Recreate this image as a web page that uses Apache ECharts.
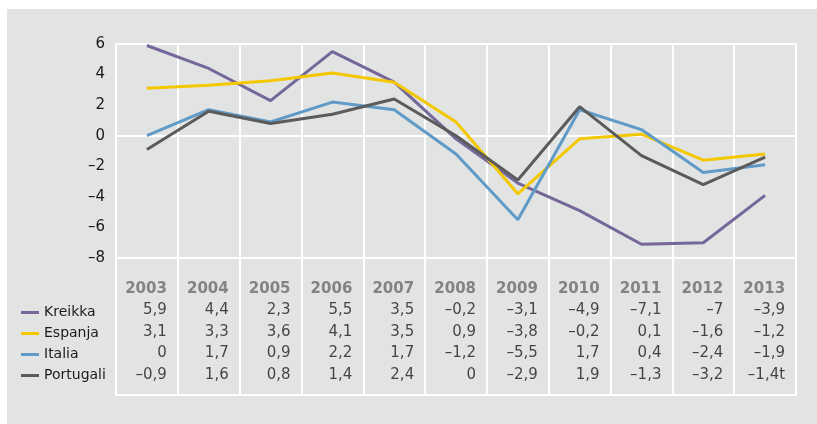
<!DOCTYPE html>
<html>
<head>
<meta charset="utf-8">
<script src="https://cdn.jsdelivr.net/npm/echarts@6/dist/echarts.min.js"></script>
<style>
html, body { margin: 0; padding: 0; background: #fff; }
#chart { width: 817px; height: 424px; }
</style>
</head>
<body>
<div id="chart"></div>
<script>
var years = ['2003', '2004', '2005', '2006', '2007', '2008', '2009', '2010', '2011', '2012', '2013'];
var countries = ['Kreikka', 'Espanja', 'Italia', 'Portugali'];
var kreikka = [5.9, 4.4, 2.3, 5.5, 3.5, -0.2, -3.1, -4.9, -7.1, -7, -3.9];
var espanja = [3.1, 3.3, 3.6, 4.1, 3.5, 0.9, -3.8, -0.2, 0.1, -1.6, -1.2];
var italia = [0, 1.7, 0.9, 2.2, 1.7, -1.2, -5.5, 1.7, 0.4, -2.4, -1.9];
var portugali = [-0.9, 1.6, 0.8, 1.4, 2.4, 0, -2.9, 1.9, -1.3, -3.2, -1.4];
var portugaliNotes = ['', '', '', '', '', '', '', '', '', '', 't'];
var yTicks = [-8, -6, -4, -2, 0, 2, 4, 6];
var gridLines = [6, 0, -8];
var colors = ['#76679b', '#f3c800', '#609bc8', '#5b5b5b'];

var seriesValues = [kreikka, espanja, italia, portugali];
var seriesNotes = [[], [], [], portugaliNotes];

// suomalainen numeromuoto: pilkku ja ajatusviiva
function fmt(v) {
	return String(v).replace('.', ',').replace('-', '\u2013');
}

var chart = echarts.init(document.getElementById('chart'));

var fontFamily = '"DejaVu Sans", sans-serif';

// taulukon solut: rivi 0 = vuodet, rivit 1..4 = maat
var headerCells = years.map(function (y, i) { return [i, 0, y]; });
var valueCells = [];
seriesValues.forEach(function (arr, r) {
	arr.forEach(function (v, i) {
		valueCells.push([i, r + 1, fmt(v) + (seriesNotes[r][i] || '')]);
	});
});

var lineSeries = countries.map(function (name, k) {
	var s = {
		name: name,
		type: 'line',
		xAxisIndex: 0,
		yAxisIndex: 0,
		data: seriesValues[k],
		symbol: 'none',
		lineStyle: { width: 3, color: colors[k] },
		itemStyle: { color: colors[k] },
		z: 3
	};
	if (k === 0) {
		s.markLine = {
			silent: true,
			symbol: 'none',
			label: { show: false },
			lineStyle: { color: '#fff', width: 2, type: 'solid' },
			data: gridLines.map(function (g) { return { yAxis: g }; }),
			z: 1
		};
	}
	return s;
});

var option = {
	backgroundColor: '#fff',
	animation: false,
	color: colors,
	graphic: [{
		type: 'rect',
		z: -10,
		shape: { x: 7, y: 9, width: 810, height: 415 },
		style: { fill: '#e2e3e3' },
		silent: true
	}],
	legend: {
		orient: 'vertical',
		left: 16,
		top: 297,
		itemGap: 0,
		itemWidth: 18,
		itemHeight: 3,
		icon: 'rect',
		data: countries,
		textStyle: { fontFamily: fontFamily, fontSize: 14, color: '#1a1a1a', lineHeight: 21 }
	},
	grid: [
		{ left: 116, right: 21, top: 44, height: 214 },
		{ left: 116, right: 21, top: 258, height: 137 }
	],
	xAxis: [
		{
			gridIndex: 0,
			type: 'category',
			data: years,
			boundaryGap: true,
			axisLine: { show: false },
			axisTick: { show: false },
			axisLabel: { show: false },
			splitLine: { show: true, lineStyle: { color: '#fff', width: 2 } }
		},
		{
			gridIndex: 1,
			type: 'category',
			data: years,
			boundaryGap: true,
			axisLine: { show: true, onZero: false, lineStyle: { color: '#fff', width: 2 } },
			axisTick: { show: false },
			axisLabel: { show: false },
			splitLine: { show: true, lineStyle: { color: '#fff', width: 2 } }
		}
	],
	yAxis: [
		{
			gridIndex: 0,
			type: 'value',
			min: -8,
			max: 6,
			interval: 2,
			axisLine: { show: false },
			axisTick: { show: false },
			splitLine: { show: false },
			axisLabel: {
				margin: 11,
				fontFamily: fontFamily,
				fontSize: 15,
				color: '#1a1a1a',
				formatter: function (v) { return yTicks.indexOf(v) >= 0 ? fmt(v) : ''; }
			}
		},
		{
			gridIndex: 1,
			type: 'value',
			inverse: true,
			min: -1.44,
			max: 4.93,
			show: false,
			splitLine: { show: false }
		}
	],
	series: lineSeries.concat([
		{
			name: 'vuodet',
			type: 'scatter',
			xAxisIndex: 1,
			yAxisIndex: 1,
			symbolSize: 0,
			silent: true,
			data: headerCells,
			label: {
				show: true,
				position: 'left',
				distance: 0,
				offset: [20, 0],
				formatter: function (p) { return p.value[2]; },
				fontFamily: fontFamily,
				fontSize: 15,
				fontWeight: 'bold',
				color: '#6a6a6a'
			}
		},
		{
			name: 'arvot',
			type: 'scatter',
			xAxisIndex: 1,
			yAxisIndex: 1,
			symbolSize: 0,
			silent: true,
			data: valueCells,
			label: {
				show: true,
				position: 'left',
				distance: 0,
				offset: [20, 0],
				formatter: function (p) { return p.value[2]; },
				fontFamily: fontFamily,
				fontSize: 15,
				color: '#1a1a1a'
			}
		}
	])
};

chart.setOption(option);
</script>
</body>
</html>
